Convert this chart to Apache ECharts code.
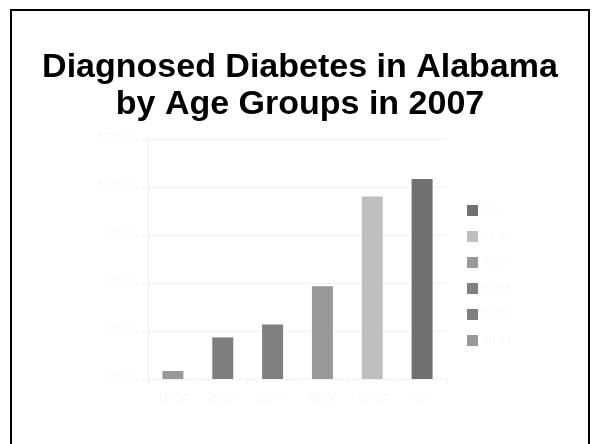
<!DOCTYPE html>
<html>
<head>
<meta charset="utf-8">
<script src="https://cdn.jsdelivr.net/npm/echarts@6/dist/echarts.min.js"></script>
<style>
  html, body { margin: 0; padding: 0; background: #fff; }
  #frame { position: absolute; left: 10px; top: 9px; width: 580px; height: 440px; border: 2px solid #000; box-sizing: border-box; }
  #chart { position: absolute; left: 0; top: 0; width: 600px; height: 444px; }
</style>
</head>
<body>
<div id="frame"></div>
<div id="chart"></div>
<script>
// Age groups and the share of adults with diagnosed diabetes (%)
const ageGroups = ['18-24', '25-34', '35-44', '45-54', '55-64', '65+'];
const prevalence = [0.5, 2.6, 3.4, 5.8, 11.4, 12.5];
const barColors = ['#999999', '#7f7f7f', '#808080', '#999999', '#bfbfbf', '#717171'];
const yTicks = { min: 0, max: 15, step: 3 };

const faintText = '#f9f9f9';
const faintLine = '#f1f1f1';
const chart = echarts.init(document.getElementById('chart'));

const legendOrder = ageGroups.slice().reverse();

chart.setOption({
  animation: false,
  title: {
    text: 'Diagnosed Diabetes in Alabama\nby Age Groups in 2007',
    left: 'center',
    top: 44,
    textStyle: { fontFamily: 'Liberation Sans', fontWeight: 'bold', fontSize: 34, lineHeight: 37, color: '#000' }
  },
  legend: {
    orient: 'vertical',
    left: 462,
    top: 200,
    itemWidth: 11,
    itemHeight: 11,
    itemGap: 15,
    icon: 'rect',
    data: legendOrder,
    textStyle: { color: faintText, fontSize: 11, fontFamily: 'Liberation Sans' }
  },
  grid: { left: 148, right: 153, top: 139, bottom: 65, containLabel: false },
  xAxis: {
    type: 'category',
    data: ageGroups,
    axisLine: { lineStyle: { color: faintLine } },
    axisTick: { show: true, lineStyle: { color: faintLine }, length: 5 },
    axisLabel: { color: faintText, fontSize: 12, margin: 14, fontFamily: 'Liberation Sans' }
  },
  yAxis: {
    type: 'value',
    min: yTicks.min,
    max: yTicks.max,
    interval: yTicks.step,
    axisLine: { show: true, lineStyle: { color: faintLine } },
    axisTick: { show: true, lineStyle: { color: faintLine }, length: 5 },
    splitLine: { lineStyle: { color: faintLine } },
    axisLabel: {
      color: faintText, fontSize: 12, margin: 10, fontFamily: 'Liberation Sans',
      formatter: v => v.toFixed(2) + '%'
    }
  },
  series: ageGroups.map((g, i) => ({
    name: g,
    type: 'bar',
    stack: 'all',
    barWidth: 21,
    itemStyle: { color: barColors[i] },
    data: ageGroups.map((_, j) => (j === i ? prevalence[i] : '-'))
  }))
});
</script>
</body>
</html>
